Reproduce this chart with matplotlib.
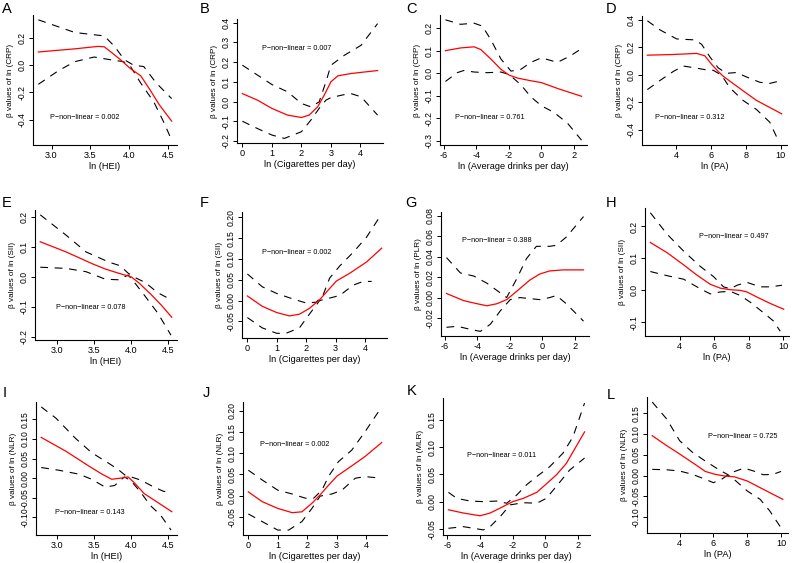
import matplotlib
matplotlib.use("Agg")
import matplotlib.pyplot as plt
from matplotlib.ticker import FixedLocator, FuncFormatter

plt.rcParams['font.family'] = ['Liberation Sans', 'DejaVu Sans']

# ---------------- data ----------------
# Panel A: ln(HEI) vs CRP
A_fx = [2.83, 3.30, 3.60, 3.68, 3.76, 3.89, 4.02, 4.15, 4.27, 4.39, 4.55]
A_fy = [0.097, 0.12, 0.138, 0.135, 0.10, 0.04, -0.026, -0.077, -0.18, -0.29, -0.41]
A_ux = [2.83, 3.30, 3.60, 3.68, 3.81, 3.94, 4.06, 4.19, 4.35, 4.55]
A_uy = [0.333, 0.24, 0.22, 0.215, 0.14, 0.04, 0.0, -0.01, -0.13, -0.245]
A_lx = [2.83, 3.09, 3.30, 3.55, 3.76, 3.93, 4.02, 4.15, 4.32, 4.45, 4.55]
A_ly = [-0.14, -0.04, 0.026, 0.06, 0.04, 0.026, -0.01, -0.13, -0.27, -0.42, -0.55]

# Panel B: ln(cigarettes) vs CRP
B_fx = [0.0, 0.51, 1.0, 1.53, 2.0, 2.26, 2.55, 2.77, 3.0, 3.23, 3.68, 4.58]
B_fy = [0.04, 0.007, -0.035, -0.069, -0.081, -0.069, -0.027, 0.032, 0.10, 0.13, 0.142, 0.157]
B_ux = [0.0, 1.0, 1.53, 2.0, 2.32, 2.6, 2.83, 3.0, 3.45, 4.02, 4.58]
B_uy = [0.184, 0.086, 0.049, -0.01, -0.027, -0.002, 0.10, 0.184, 0.234, 0.285, 0.395]
B_lx = [0.0, 0.51, 1.0, 1.42, 2.0, 2.32, 2.6, 2.83, 3.0, 3.45, 3.68, 4.02, 4.58]
B_ly = [-0.10, -0.137, -0.17, -0.187, -0.153, -0.094, -0.035, 0.007, 0.02, 0.035, 0.04, 0.024, -0.069]

# Panel C: ln(drinks) vs CRP
C_fx = [-5.9, -4.97, -4.14, -3.73, -3.11, -2.49, -1.98, -1.46, -0.64, 0.0, 0.99, 2.47]
C_fy = [0.10, 0.112, 0.117, 0.105, 0.063, 0.017, -0.009, -0.022, -0.034, -0.042, -0.068, -0.103]
C_ux = [-5.9, -4.97, -4.14, -3.63, -3.11, -2.49, -1.87, -1.26, -0.64, 0.0, 0.99, 1.81, 2.47]
C_uy = [0.237, 0.217, 0.222, 0.209, 0.149, 0.063, 0.009, 0.017, 0.048, 0.068, 0.048, 0.078, 0.109]
C_lx = [-5.9, -5.18, -4.76, -4.14, -3.32, -2.49, -1.98, -1.26, -0.64, 0.0, 0.78, 1.6, 2.47]
C_ly = [-0.037, 0.002, 0.012, 0.005, 0.002, 0.005, -0.006, -0.052, -0.106, -0.145, -0.175, -0.222, -0.298]

# Panel D: ln(PA) vs CRP
D_fx = [2.36, 3.85, 5.19, 5.66, 6.04, 6.42, 6.71, 7.47, 8.62, 10.06]
D_fy = [0.142, 0.147, 0.155, 0.137, 0.076, 0.024, -0.011, -0.082, -0.187, -0.284]
D_ux = [2.36, 3.08, 4.04, 5.09, 5.47, 5.95, 6.42, 6.9, 7.47, 8.04, 8.81, 9.38, 10.06]
D_uy = [0.392, 0.326, 0.26, 0.253, 0.221, 0.129, 0.05, 0.01, 0.016, -0.016, -0.055, -0.063, -0.042]
D_lx = [2.36, 3.08, 3.85, 4.42, 5.09, 5.66, 6.14, 6.61, 7.09, 7.85, 8.62, 9.38, 9.86]
D_ly = [-0.108, -0.042, 0.024, 0.063, 0.05, 0.037, 0.032, -0.003, -0.095, -0.187, -0.253, -0.345, -0.476]

# Panel E: ln(HEI) vs SII
E_fx = [2.77, 3.12, 3.48, 3.65, 3.83, 4.0, 4.10, 4.27, 4.41, 4.55]
E_fy = [0.117, 0.083, 0.043, 0.026, 0.012, 0.0, -0.019, -0.059, -0.095, -0.135]
E_ux = [2.77, 3.12, 3.39, 3.70, 3.85, 3.96, 4.05, 4.19, 4.36, 4.55]
E_uy = [0.207, 0.139, 0.083, 0.049, 0.037, 0.012, -0.002, -0.019, -0.053, -0.078]
E_lx = [2.77, 3.12, 3.39, 3.65, 3.83, 3.96, 4.03, 4.19, 4.36, 4.54]
E_ly = [0.032, 0.028, 0.017, -0.008, -0.01, 0.006, -0.014, -0.065, -0.121, -0.195]

# Panel F: ln(cigarettes) vs SII
F_fx = [0.0, 0.51, 1.0, 1.43, 1.77, 2.11, 2.46, 2.80, 3.03, 3.49, 4.06, 4.57]
F_fy = [0.011, -0.014, -0.029, -0.037, -0.033, -0.019, 0.002, 0.029, 0.047, 0.066, 0.093, 0.126]
F_ux = [0.0, 0.51, 1.0, 1.54, 2.0, 2.34, 2.57, 2.80, 3.14, 3.6, 4.06, 4.51]
F_uy = [0.064, 0.033, 0.017, 0.004, -0.006, -0.004, 0.012, 0.054, 0.083, 0.116, 0.153, 0.202]
F_lx = [0.0, 0.51, 1.0, 1.31, 1.77, 2.11, 2.46, 2.80, 3.14, 3.6, 3.94, 4.23]
F_ly = [-0.041, -0.066, -0.079, -0.079, -0.066, -0.033, 0.0, 0.006, 0.012, 0.037, 0.046, 0.046]

# Panel G: ln(drinks) vs PLR
G_fx = [-5.9, -4.84, -4.02, -3.41, -2.8, -2.2, -1.59, -0.78, -0.16, 0.45, 1.27, 2.53]
G_fy = [0.004, -0.003, -0.006, -0.008, -0.006, -0.002, 0.006, 0.017, 0.023, 0.026, 0.027, 0.027]
G_ux = [-5.9, -5.04, -4.22, -3.41, -2.8, -2.2, -1.59, -0.98, -0.37, 0.45, 0.86, 1.47, 2.53]
G_uy = [0.039, 0.024, 0.021, 0.014, 0.007, 0.0, 0.018, 0.038, 0.05, 0.05, 0.051, 0.059, 0.079]
G_lx = [-5.9, -5.24, -4.43, -3.82, -3.2, -2.59, -1.98, -1.37, -0.78, -0.16, 0.45, 0.86, 1.47, 2.53]
G_ly = [-0.029, -0.028, -0.031, -0.033, -0.026, -0.013, -0.002, 0.0, -0.001, -0.002, 0.0, 0.002, -0.006, -0.023]

# Panel H: ln(PA) vs SII
H_fx = [2.30, 3.27, 4.23, 5.0, 5.78, 6.36, 6.94, 7.52, 7.91, 8.49, 9.26, 10.04]
H_fy = [0.150, 0.118, 0.080, 0.048, 0.019, 0.007, 0.002, 0.0, -0.005, -0.021, -0.041, -0.059]
H_ux = [2.30, 3.27, 4.23, 5.2, 5.97, 6.55, 6.94, 7.33, 7.91, 8.68, 9.26, 9.94]
H_uy = [0.243, 0.176, 0.123, 0.075, 0.043, 0.011, 0.005, 0.016, 0.025, 0.011, 0.011, 0.016]
H_lx = [2.30, 3.27, 4.23, 5.2, 5.78, 6.36, 6.94, 7.52, 8.1, 8.87, 9.45, 9.84]
H_ly = [0.059, 0.046, 0.035, 0.005, -0.011, -0.005, -0.003, -0.016, -0.037, -0.07, -0.096, -0.128]

# Panel I: ln(HEI) vs NLR
I_fx = [2.79, 3.12, 3.43, 3.61, 3.74, 3.87, 3.96, 4.04, 4.18, 4.35, 4.55]
I_fy = [0.104, 0.069, 0.031, 0.010, -0.003, 0.0, 0.003, -0.011, -0.040, -0.061, -0.086]
I_ux = [2.79, 2.99, 3.25, 3.47, 3.69, 3.82, 3.93, 4.0, 4.13, 4.31, 4.44, 4.55]
I_uy = [0.182, 0.153, 0.102, 0.065, 0.039, 0.023, 0.006, 0.003, -0.005, -0.023, -0.034, -0.036]
I_lx = [2.79, 3.03, 3.30, 3.47, 3.65, 3.78, 3.91, 4.0, 4.13, 4.26, 4.40, 4.54]
I_ly = [0.027, 0.020, 0.010, -0.003, -0.023, -0.019, 0.003, -0.007, -0.036, -0.070, -0.095, -0.133]

# Panel J: ln(cigarettes) vs NLR
J_fx = [0.0, 0.47, 1.0, 1.49, 1.82, 2.16, 2.44, 2.73, 3.01, 3.51, 3.96, 4.53]
J_fy = [0.009, -0.014, -0.030, -0.040, -0.038, -0.018, 0.002, 0.025, 0.046, 0.070, 0.092, 0.125]
J_ux = [0.0, 0.47, 1.0, 1.49, 1.94, 2.22, 2.5, 2.73, 3.06, 3.51, 3.96, 4.53]
J_uy = [0.060, 0.037, 0.013, 0.004, -0.006, -0.006, 0.013, 0.046, 0.080, 0.107, 0.150, 0.209]
J_lx = [0.0, 0.47, 1.0, 1.37, 1.82, 2.16, 2.44, 2.84, 3.18, 3.63, 3.96, 4.53]
J_ly = [-0.043, -0.061, -0.081, -0.081, -0.061, -0.030, -0.001, 0.004, 0.013, 0.041, 0.045, 0.041]

# Panel K: ln(drinks) vs MLR
K_fx = [-5.94, -5.02, -4.0, -3.39, -2.78, -2.0, -1.35, -0.53, 0.0, 0.67, 1.28, 2.4]
K_fy = [-0.015, -0.021, -0.026, -0.021, -0.012, 0.0, 0.006, 0.017, 0.031, 0.049, 0.070, 0.128]
K_ux = [-5.94, -5.43, -4.61, -3.8, -2.99, -2.37, -1.76, -1.15, -0.53, 0.26, 1.08, 1.69, 2.4]
K_uy = [0.017, 0.006, 0.001, 0.0, 0.001, -0.003, 0.012, 0.031, 0.046, 0.064, 0.089, 0.119, 0.181]
K_lx = [-5.94, -5.02, -3.8, -3.39, -2.78, -2.16, -1.35, -0.53, 0.06, 0.67, 1.49, 2.4]
K_ly = [-0.049, -0.046, -0.052, -0.046, -0.028, -0.006, -0.002, -0.003, 0.006, 0.028, 0.058, 0.080]

# Panel L: ln(PA) vs NLR
L_fx = [2.38, 3.24, 4.0, 4.95, 5.52, 6.1, 6.67, 7.24, 8.0, 8.76, 9.52, 10.1]
L_fy = [0.096, 0.072, 0.052, 0.026, 0.010, 0.003, -0.001, -0.003, -0.013, -0.029, -0.045, -0.057]
L_ux = [2.38, 3.24, 4.0, 4.76, 5.52, 6.29, 6.86, 7.33, 8.0, 8.76, 9.33, 10.0]
L_uy = [0.177, 0.136, 0.084, 0.056, 0.035, 0.015, 0.002, -0.013, -0.037, -0.057, -0.085, -0.126]
L_lx = [2.38, 3.24, 4.0, 4.76, 5.52, 6.0, 6.48, 7.05, 7.81, 8.38, 8.95, 9.52, 10.0]
L_ly = [0.015, 0.014, 0.011, 0.003, -0.009, -0.017, -0.009, 0.007, 0.018, 0.011, 0.002, 0.003, 0.010]

letters = ["A", "B", "C", "D", "E", "F", "G", "H", "I", "J", "K", "L"]
xlabels = ["ln (HEI)", "ln (Cigarettes per day)", "ln (Average drinks per day)", "ln (PA)"] * 3
ylabels = ["β values of ln (CRP)"] * 4 + [
    "β values of ln (SII)", "β values of ln (SII)", "β values of ln (PLR)", "β values of ln (SII)",
    "β values of ln (NLR)", "β values of ln (NLR)", "β values of ln (MLR)", "β values of ln (NLR)"]
p_texts = ["0.002", "0.007", "0.761", "0.312", "0.078", "0.002",
           "0.388", "0.497", "0.143", "0.002", "0.011", "0.725"]
xticks_hei = [3.0, 3.5, 4.0, 4.5]
xticks_cig = [0, 1, 2, 3, 4]
xticks_drk = [-6, -4, -2, 0, 2]
xticks_pa = [4, 6, 8, 10]
yticks_list = [
    [-0.6, -0.4, -0.2, 0.0, 0.2],
    [-0.2, -0.1, 0.0, 0.1, 0.2, 0.3, 0.4],
    [-0.3, -0.2, -0.1, 0.0, 0.1, 0.2],
    [-0.4, -0.2, 0.0, 0.2, 0.4],
    [-0.2, -0.1, 0.0, 0.1, 0.2],
    [-0.05, 0.0, 0.05, 0.10, 0.15, 0.20],
    [-0.02, 0.0, 0.02, 0.04, 0.06, 0.08],
    [-0.1, 0.0, 0.1, 0.2],
    [-0.10, -0.05, 0.0, 0.05, 0.10, 0.15],
    [-0.05, 0.0, 0.05, 0.10, 0.15, 0.20],
    [-0.05, 0.0, 0.05, 0.10, 0.15],
    [-0.10, -0.05, 0.0, 0.05, 0.10, 0.15],
]
ydec = [1, 1, 1, 1, 1, 2, 2, 1, 2, 2, 2, 2]

series = [
    (A_fx, A_fy, A_ux, A_uy, A_lx, A_ly), (B_fx, B_fy, B_ux, B_uy, B_lx, B_ly),
    (C_fx, C_fy, C_ux, C_uy, C_lx, C_ly), (D_fx, D_fy, D_ux, D_uy, D_lx, D_ly),
    (E_fx, E_fy, E_ux, E_uy, E_lx, E_ly), (F_fx, F_fy, F_ux, F_uy, F_lx, F_ly),
    (G_fx, G_fy, G_ux, G_uy, G_lx, G_ly), (H_fx, H_fy, H_ux, H_uy, H_lx, H_ly),
    (I_fx, I_fy, I_ux, I_uy, I_lx, I_ly), (J_fx, J_fy, J_ux, J_uy, J_lx, J_ly),
    (K_fx, K_fy, K_ux, K_uy, K_lx, K_ly), (L_fx, L_fy, L_ux, L_uy, L_lx, L_ly),
]

# ---------------- layout (pixels: left, top, right, bottom) ----------------
W, H = 793, 563
boxes = [
    (33, 15, 177, 145), (237, 19, 383, 143), (440, 15, 587, 145), (642, 16, 787, 145),
    (35, 210, 177, 340), (242, 212, 387, 338), (441, 212, 589, 336), (645, 208, 789, 336),
    (36, 402, 177, 535), (243, 402, 387, 535), (443, 398, 590, 535), (647, 397, 788, 533),
]
p_pos = [(0.36, 0.21), (0.41, 0.76), (0.34, 0.215), (0.33, 0.21),
         (0.39, 0.25), (0.38, 0.68), (0.38, 0.77), (0.62, 0.78),
         (0.38, 0.17), (0.36, 0.68), (0.40, 0.58), (0.68, 0.71)]
letter_pos = [(2, 2), (200, 2), (406, 2), (606, 2),
              (2, 196), (200, 196), (405, 196), (606, 196),
              (3, 386), (203, 386), (407, 384), (607, 388)]

fig = plt.figure(figsize=(W / 100, H / 100), dpi=100)
XFS = 6.6   # x tick labels and x axis labels
YTFS = 6.2  # y tick labels
YLFS = 5.9  # y axis labels
DASH = (0, (7, 6))


def fmt_num(v, d):
    s = f"{v:.{d}f}" if abs(v) > 1e-9 else f"{0:.{d}f}"
    return s


for i in range(12):
    l, t, r, b = boxes[i]
    ax = fig.add_axes([l / W, 1 - b / H, (r - l) / W, (b - t) / H])
    fx, fy, ux, uy, lx, ly = series[i]
    ax.plot(ux, uy, color="black", lw=0.8, linestyle=DASH)
    ax.plot(lx, ly, color="black", lw=0.8, linestyle=DASH)
    ax.plot(fx, fy, color="red", lw=0.9)
    ax.margins(x=0.04, y=0.04)
    col = i % 4
    xt = [xticks_hei, xticks_cig, xticks_drk, xticks_pa][col]
    ax.xaxis.set_major_locator(FixedLocator(xt))
    xd = 1 if col == 0 else 0
    ax.xaxis.set_major_formatter(FuncFormatter(lambda v, p, xd=xd: fmt_num(v, xd)))
    d = ydec[i]
    ax.yaxis.set_major_locator(FixedLocator(yticks_list[i]))
    ax.yaxis.set_major_formatter(FuncFormatter(lambda v, p, d=d: fmt_num(v, d)))
    ax.tick_params(axis="both", direction="out", length=3, width=0.7, pad=1.5)
    ax.tick_params(axis="x", labelsize=XFS)
    ax.tick_params(axis="y", labelsize=YTFS, labelrotation=90)
    for lab in ax.get_yticklabels():
        lab.set_verticalalignment("center")
    for s in ["top", "right"]:
        ax.spines[s].set_visible(False)
    for s in ["left", "bottom"]:
        ax.spines[s].set_linewidth(0.8)
    ax.set_xlabel(xlabels[i], fontsize=XFS, labelpad=1.5)
    ax.set_ylabel(ylabels[i], fontsize=YLFS, labelpad=2.5)
    ax.text(p_pos[i][0], p_pos[i][1], "P\u2212non\u2212linear = " + p_texts[i],
            transform=ax.transAxes, ha="center", va="center", fontsize=5.2)
    fig.text(letter_pos[i][0] / W, 1 - letter_pos[i][1] / H, letters[i],
             ha="left", va="top", fontsize=10.5)

fig.savefig("out.png", dpi=100)
